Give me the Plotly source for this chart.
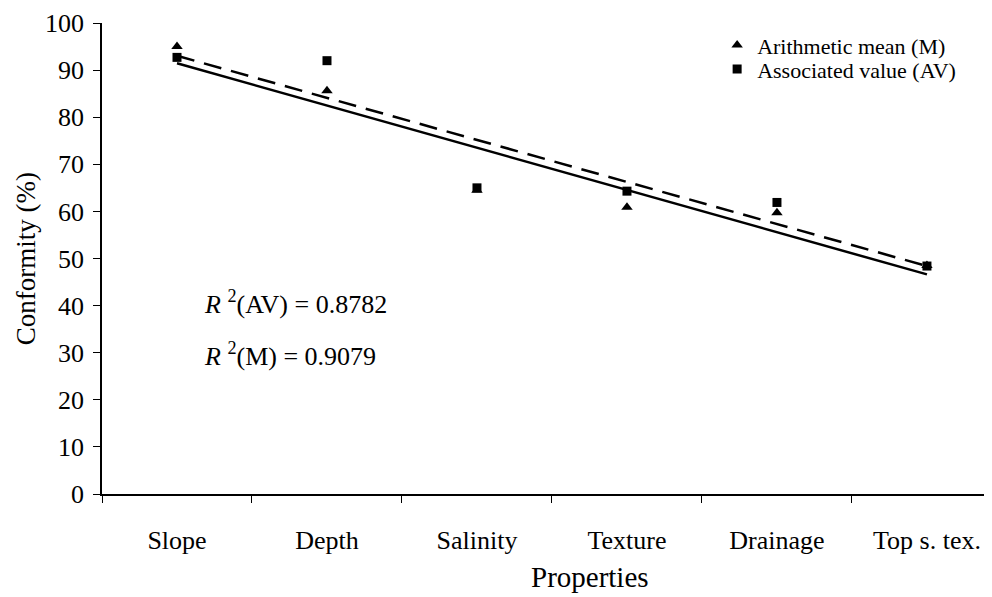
import numpy as np
import plotly.graph_objects as go

categories = ["Slope", "Depth", "Salinity", "Texture", "Drainage", "Top s. tex."]
mean_M = [95.0, 85.6, 64.5, 60.9, 59.7, 48.5]
assoc_AV = [92.7, 92.0, 65.0, 64.3, 61.9, 48.4]
y_ticks = list(range(0, 101, 10))

FONT = "Liberation Serif"
FS = 26

xi = np.arange(len(categories))
fit_M = np.polyval(np.polyfit(xi, mean_M, 1), xi)
fit_AV = np.polyval(np.polyfit(xi, assoc_AV, 1), xi)

fig = go.Figure()
fig.add_trace(go.Scatter(x=categories, y=fit_M, mode="lines",
                         line=dict(color="black", width=2.5), showlegend=False, hoverinfo="skip"))
fig.add_trace(go.Scatter(x=categories, y=fit_AV, mode="lines",
                         line=dict(color="black", width=2.5, dash="18px,10px"), showlegend=False, hoverinfo="skip"))
fig.add_trace(go.Scatter(x=categories, y=mean_M, mode="markers", name="Arithmetic mean (M)",
                         marker=dict(symbol="triangle-up", size=10, color="black"), legend="legend"))
fig.add_trace(go.Scatter(x=categories, y=assoc_AV, mode="markers", name="Associated value (AV)",
                         marker=dict(symbol="square", size=9, color="black"), legend="legend2"))

fig.add_annotation(x=0.17, y=40.6, xref="x", yref="y", text="<i>R</i> <sup>2</sup>(AV) = 0.8782",
                   showarrow=False, xanchor="left", font=dict(family=FONT, size=26, color="black"))
fig.add_annotation(x=0.17, y=29.6, xref="x", yref="y", text="<i>R</i> <sup>2</sup>(M) = 0.9079",
                   showarrow=False, xanchor="left", font=dict(family=FONT, size=26, color="black"))
fig.add_annotation(x=0.543, y=-0.176, xref="paper", yref="paper", text="Properties",
                   showarrow=False, xanchor="center", yanchor="middle",
                   font=dict(family=FONT, size=29, color="black"))
fig.add_annotation(x=-0.085, y=0.5, xref="paper", yref="paper", text="Conformity (%)",
                   showarrow=False, xanchor="center", yanchor="middle", textangle=-90, borderpad=0,
                   font=dict(family=FONT, size=27, color="black"))

leg_common = dict(xanchor="left", yanchor="middle", bgcolor="rgba(0,0,0,0)",
                  font=dict(family=FONT, size=22), itemwidth=30)

fig.update_layout(
    width=992, height=597,
    margin=dict(l=94, r=0, t=15, b=111),
    paper_bgcolor="white", plot_bgcolor="white",
    font=dict(family=FONT, size=FS, color="black"),
    legend=dict(x=0.685, y=0.953, **leg_common),
    legend2=dict(x=0.685, y=0.902, **leg_common),
    xaxis=dict(type="category", categoryarray=categories, range=[-0.5, 5.487],
               showline=True, linecolor="black", linewidth=1.5, tickson="boundaries",
               ticks="outside", ticklen=7, tickcolor="black", showgrid=False, zeroline=False,
               automargin=False, ticklabelstandoff=22),
    yaxis=dict(range=[0, 100], tickvals=y_ticks, showline=True, linecolor="black", linewidth=1.5,
               ticks="outside", ticklen=7, tickcolor="black", showgrid=False, zeroline=False,
               automargin=False, ticklabelstandoff=4),
)

fig.write_html("out.html")
